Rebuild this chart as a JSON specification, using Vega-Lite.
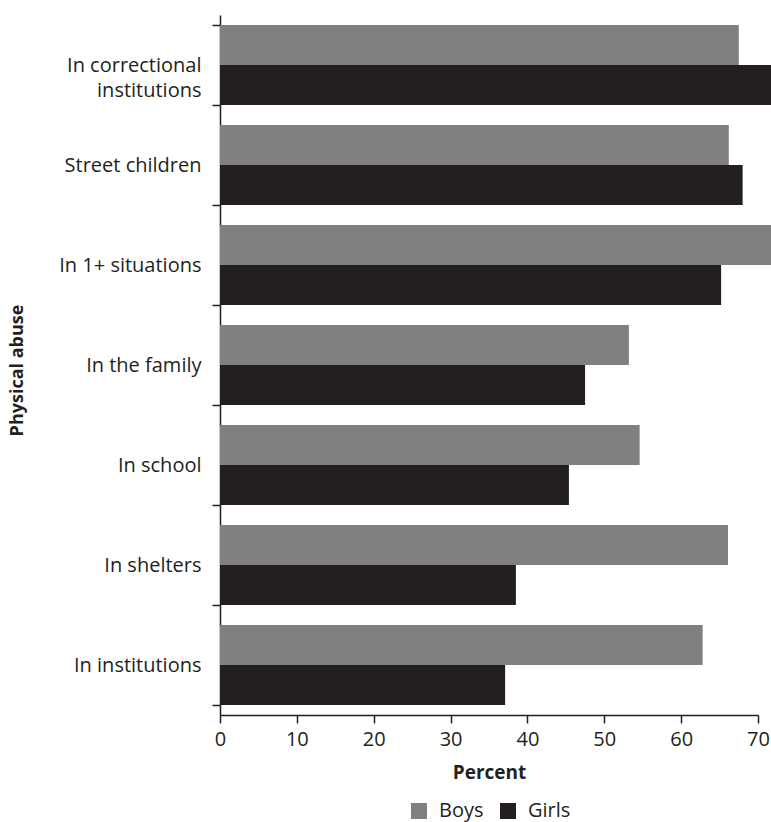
{
  "$schema": "https://vega.github.io/schema/vega-lite/v6.json",
  "width": 538,
  "height": 700,
  "autosize": {"type": "none"},
  "padding": {"left": 220, "top": 15, "right": 13, "bottom": 107},
  "background": "white",
  "config": {
    "view": {"stroke": null},
    "font": "Open Sans",
    "axis": {
      "domainColor": "#231f20",
      "domainWidth": 1.5,
      "tickColor": "#231f20",
      "tickWidth": 1.5,
      "labelColor": "#231f20",
      "titleColor": "#231f20",
      "labelFont": "Open Sans",
      "titleFont": "Open Sans",
      "grid": false
    }
  },
  "data": {
    "values": [
      {"situation": "In correctional institutions", "sex": "Boys", "percent": 67.5},
      {"situation": "In correctional institutions", "sex": "Girls", "percent": 73},
      {"situation": "Street children", "sex": "Boys", "percent": 66.2},
      {"situation": "Street children", "sex": "Girls", "percent": 68.0},
      {"situation": "In 1+ situations", "sex": "Boys", "percent": 73},
      {"situation": "In 1+ situations", "sex": "Girls", "percent": 65.2},
      {"situation": "In the family", "sex": "Boys", "percent": 53.2},
      {"situation": "In the family", "sex": "Girls", "percent": 47.5},
      {"situation": "In school", "sex": "Boys", "percent": 54.6},
      {"situation": "In school", "sex": "Girls", "percent": 45.4},
      {"situation": "In shelters", "sex": "Boys", "percent": 66.1},
      {"situation": "In shelters", "sex": "Girls", "percent": 38.5},
      {"situation": "In institutions", "sex": "Boys", "percent": 62.8},
      {"situation": "In institutions", "sex": "Girls", "percent": 37.1}
    ]
  },
  "mark": {"type": "bar"},
  "encoding": {
    "y": {
      "field": "situation",
      "type": "nominal",
      "sort": ["In correctional institutions", "Street children", "In 1+ situations", "In the family", "In school", "In shelters", "In institutions"],
      "scale": {"paddingInner": 0.2, "paddingOuter": 0.1},
      "axis": {
        "title": "Physical abuse",
        "titleFontSize": 18,
        "titleFontWeight": "bold",
        "titleAngle": -90,
        "titleX": -203,
        "titleY": 355,
        "titleAlign": "center",
        "titleBaseline": "middle",
        "labelFontSize": 20,
        "labelPadding": 11,
        "labelLineHeight": 25,
        "tickSize": 8,
        "tickBand": "extent",
        "labelExpr": "datum.label == 'In correctional institutions' ? ['In correctional', 'institutions'] : datum.label"
      }
    },
    "yOffset": {"field": "sex", "sort": ["Boys", "Girls"]},
    "x": {
      "field": "percent",
      "type": "quantitative",
      "scale": {"domain": [0, 70], "nice": false},
      "axis": {
        "title": "Percent",
        "titleFontSize": 19,
        "titleFontWeight": "bold",
        "titlePadding": 14,
        "values": [0, 10, 20, 30, 40, 50, 60, 70],
        "labelFontSize": 20,
        "labelPadding": 6,
        "tickSize": 8,
        "labelFlush": false
      }
    },
    "color": {
      "field": "sex",
      "type": "nominal",
      "scale": {"domain": ["Boys", "Girls"], "range": ["#808083", "#231f20"]},
      "legend": {
        "title": null,
        "orient": "none",
        "legendX": 189,
        "legendY": 786,
        "direction": "horizontal",
        "symbolType": "square",
        "symbolSize": 256,
        "symbolStrokeWidth": 0,
        "labelFontSize": 20,
        "labelColor": "#231f20",
        "labelOffset": 10,
        "columnPadding": 14,
        "padding": 0
      }
    }
  }
}
